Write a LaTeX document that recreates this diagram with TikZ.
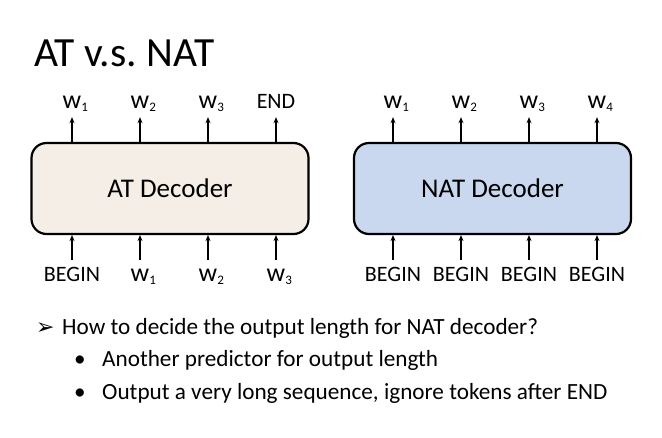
\documentclass[tikz,border=0pt]{standalone}
\usepackage{fontspec}
\setmainfont{Carlito}
\newfontfamily\dingfont{DejaVu Sans}
\usetikzlibrary{arrows.meta}
\definecolor{atfill}{HTML}{F4EEE6}
\definecolor{natfill}{HTML}{C9D7EF}
\newcommand{\tok}[1]{{\fontsize{26}{26}\selectfont w}\rlap{\raisebox{-2.5pt}{\fontsize{13}{13}\selectfont #1}}}
\frenchspacing
\begin{document}
\begin{tikzpicture}[x=1pt, y=-1pt,
		decoder/.style={draw, line width=2.2pt, rounded corners=15pt, minimum width=277pt, minimum height=91pt, font=\fontsize{27}{27}\selectfont},
		token/.style={inner sep=0pt, text height=13pt, text depth=0pt, anchor=base, font=\fontsize{22}{22}\selectfont},
		flowup/.style={line width=1.5pt, -{Stealth[length=6pt, width=5pt]}, shorten >=8pt},
		flowin/.style={line width=1.5pt, -{Stealth[length=6pt, width=5pt]}, shorten <=9pt},
		bullets/.style={anchor=base west, inner sep=0pt, font=\fontsize{23.2}{23.2}\selectfont}
		]
	\fill[white] (0,0) rectangle (662,438);
	\useasboundingbox (0,0) rectangle (662,438);
	\node [anchor=base west, inner sep=0pt, font=\fontsize{41.5}{41.5}\selectfont] (title) at (34,67) {AT v.s. NAT};
	\node [decoder, fill=atfill] (at) at (170,188.5) {AT Decoder};
	\node [decoder, fill=natfill] (nat) at (492.5,188.5) {NAT Decoder};
	\node [token] (ao1) at (72,109) {\tok{1}};
	\node [token] (ao2) at (140,109) {\tok{2}};
	\node [token] (ao3) at (208,109) {\tok{3}};
	\node [token] (ao4) at (276,109) {END};
	\node [token] (ai1) at (72,282) {BEGIN};
	\node [token] (ai2) at (140,282) {\tok{1}};
	\node [token] (ai3) at (208,282) {\tok{2}};
	\node [token] (ai4) at (276,282) {\tok{3}};
	\node [token] (no1) at (393,109) {\tok{1}};
	\node [token] (no2) at (461,109) {\tok{2}};
	\node [token] (no3) at (529,109) {\tok{3}};
	\node [token] (no4) at (597,109) {\tok{4}};
	\node [token] (ni1) at (393,282) {BEGIN};
	\node [token] (ni2) at (461,282) {BEGIN};
	\node [token] (ni3) at (529,282) {BEGIN};
	\node [token] (ni4) at (597,282) {BEGIN};
	\draw [flowup] (at.north -| ao1) -- (ao1.south);
	\draw [flowup] (at.north -| ao2) -- (ao2.south);
	\draw [flowup] (at.north -| ao3) -- (ao3.south);
	\draw [flowup] (at.north -| ao4) -- (ao4.south);
	\draw [flowin] (ai1.north) -- (ai1 |- at.south);
	\draw [flowin] (ai2.north) -- (ai2 |- at.south);
	\draw [flowin] (ai3.north) -- (ai3 |- at.south);
	\draw [flowin] (ai4.north) -- (ai4 |- at.south);
	\draw [flowup] (nat.north -| no1) -- (no1.south);
	\draw [flowup] (nat.north -| no2) -- (no2.south);
	\draw [flowup] (nat.north -| no3) -- (no3.south);
	\draw [flowup] (nat.north -| no4) -- (no4.south);
	\draw [flowin] (ni1.north) -- (ni1 |- nat.south);
	\draw [flowin] (ni2.north) -- (ni2 |- nat.south);
	\draw [flowin] (ni3.north) -- (ni3 |- nat.south);
	\draw [flowin] (ni4.north) -- (ni4 |- nat.south);
	\node [bullets, font=\fontsize{22}{22}\dingfont] (mark) at (36,335) {➢};
	\node [bullets] (q) at (62,335) {How to decide the output length for NAT decoder?};
	\node [bullets] (dot1) at (74,367) {•};
	\node [bullets] (a1) at (102,367) {Another predictor for output length};
	\node [bullets] (dot2) at (74,400) {•};
	\node [bullets] (a2) at (102,400) {Output a very long sequence, ignore tokens after END};
\end{tikzpicture}
\end{document}
